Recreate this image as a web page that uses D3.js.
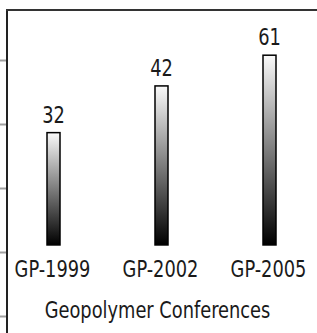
<!DOCTYPE html>
<html>
<head>
<meta charset="utf-8">
<script src="https://cdn.jsdelivr.net/npm/d3@7"></script>
<style>
  body { margin: 0; background: #fff; }
  svg { display: block; }
</style>
</head>
<body>
<script>
// chart data
var conferences = ["GP-1999", "GP-2002", "GP-2005"];
var valueLabels = [32, 42, 61];          // numbers printed above the bars
var barLevels = [37.3, 51.9, 61.5];      // bar tops as drawn, read on the hidden y axis
var barBase = 2.2;                        // bars start slightly above the 0 tick
var yTicks = [-20, 0, 20, 40, 60];

var w = 317, h = 333;
var font = "'DejaVu Sans Condensed', 'DejaVu Sans', sans-serif";
var stretchY = 1.16; // text in the picture is drawn a bit taller than normal

var svg = d3.select("body").append("svg")
    .attr("width", w)
    .attr("height", h);

var x = d3.scalePoint()
    .domain(conferences)
    .range([53.5, 269.5]);

var y = d3.scaleLinear()
    .domain([0, 80])
    .range([252, -4]);

// gradient for the bars: white at top, black at bottom
var grad = svg.append("defs").append("linearGradient")
    .attr("id", "barGrad")
    .attr("x1", 0).attr("y1", 0)
    .attr("x2", 0).attr("y2", 1);
grad.append("stop").attr("offset", "0%").attr("stop-color", "#fafafa");
grad.append("stop").attr("offset", "100%").attr("stop-color", "#000");

// y axis ticks (labels are off the left edge)
var yAxis = d3.axisLeft(y).tickValues(yTicks).tickSize(7).tickFormat("");
var gy = svg.append("g")
    .attr("transform", "translate(7,0)")
    .call(yAxis);
gy.select(".domain").remove();
gy.selectAll(".tick line")
    .attr("stroke", "#a0a0a0")
    .attr("stroke-width", 2);

// frame: left and top lines
svg.append("line")
    .attr("x1", 7).attr("y1", 10)
    .attr("x2", 7).attr("y2", h)
    .attr("stroke", "#222")
    .attr("stroke-width", 2);
svg.append("line")
    .attr("x1", 6).attr("y1", 10)
    .attr("x2", w).attr("y2", 10)
    .attr("stroke", "#333")
    .attr("stroke-width", 2);

var barW = 13;

svg.selectAll("rect.bar")
    .data(conferences)
    .enter()
    .append("rect")
    .attr("class", "bar")
    .attr("x", function (d) { return x(d) - barW / 2; })
    .attr("y", function (d, i) { return y(barLevels[i]); })
    .attr("width", barW)
    .attr("height", function (d, i) { return y(barBase) - y(barLevels[i]); })
    .attr("fill", "url(#barGrad)")
    .attr("stroke", "#000")
    .attr("stroke-width", 1.5);

// helper: put stretched text with its baseline at (tx, ty)
function placeText(sel, tx, ty) {
    sel.attr("transform", function (d, i) {
        return "translate(" + tx(d, i) + "," + ty(d, i) + ") scale(1," + stretchY + ")";
    })
    .attr("text-anchor", "middle")
    .attr("font-family", font)
    .attr("font-stretch", "condensed")
    .attr("font-size", 19.8)
    .attr("fill", "#1a1a1a");
}

// value labels
svg.selectAll("text.val")
    .data(conferences)
    .enter()
    .append("text")
    .attr("class", "val")
    .call(placeText,
        function (d) { return x(d); },
        function (d, i) { return y(barLevels[i]) - 10; })
    .text(function (d, i) { return valueLabels[i]; });

// category labels
svg.selectAll("text.cat")
    .data(conferences)
    .enter()
    .append("text")
    .attr("class", "cat")
    .call(placeText,
        function (d) { return x(d) - 1; },
        function () { return 276.5; })
    .text(function (d) { return d; });

// axis title
svg.append("text")
    .datum("Geopolymer Conferences")
    .call(placeText,
        function () { return 157.5; },
        function () { return 317.5; })
    .text(function (d) { return d; });
</script>
</body>
</html>
